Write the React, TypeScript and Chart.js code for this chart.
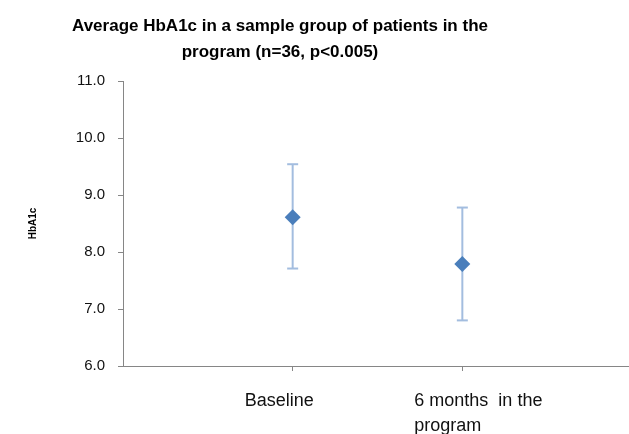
import React, { useEffect, useRef } from "react";
import { Chart, registerables } from "chart.js";

Chart.register(...registerables);

const titleLines = [
  "Average HbA1c in a sample group of patients in the",
  "program (n=36, p<0.005)",
];
const categories: (string | string[])[] = ["Baseline", ["6 months  in the", "program"]];
const categoryPositions = [1, 2];
const meanValues = [8.61, 7.79];
const upperValues = [9.54, 8.78];
const lowerValues = [7.71, 6.8];
const yTitle = "HbA1c";

const AXIS = "#868686";
const MARKER = "#4a7ebb";
const ERRBAR = "#a3bddf";

const titlePlugin = {
  id: "customTitle",
  afterDraw(chart: any) {
    const ctx = chart.ctx;
    ctx.save();
    ctx.font = "bold 17px 'Liberation Sans', Arial, sans-serif";
    ctx.fillStyle = "#000";
    ctx.textAlign = "center";
    ctx.textBaseline = "alphabetic";
    titleLines.forEach((t, i) => ctx.fillText(t, 280, 31 + i * 26));
    ctx.restore();
  },
};

export default function App() {
  const ref = useRef<HTMLCanvasElement>(null);
  useEffect(() => {
    if (!ref.current) return;
    const errorSets = categoryPositions.map((x, i) => ({
      type: "line" as const,
      data: [
        { x, y: lowerValues[i] },
        { x, y: upperValues[i] },
      ],
      showLine: true,
      borderColor: ERRBAR,
      borderWidth: 2,
      pointStyle: "line",
      pointRadius: 5.5,
      pointBorderWidth: 2,
      pointBorderColor: ERRBAR,
      pointHoverRadius: 5.5,
      order: 2,
    }));
    const chart = new Chart(ref.current, {
      type: "scatter",
      data: {
        datasets: [
          {
            data: categoryPositions.map((x, i) => ({ x, y: meanValues[i] })),
            pointStyle: "rectRot",
            pointRadius: 8,
            pointHoverRadius: 8,
            backgroundColor: MARKER,
            borderColor: MARKER,
            borderWidth: 0,
            order: 1,
          } as any,
          ...(errorSets as any[]),
        ],
      },
      plugins: [titlePlugin],
      options: {
        animation: false,
        responsive: false,
        events: [],
        layout: { padding: { top: 81, left: 0, right: 0, bottom: 0 } },
        plugins: {
          legend: { display: false },
          tooltip: { enabled: false },
          title: { display: false },
        },
        scales: {
          x: {
            type: "linear",
            min: 0,
            max: 3,
            afterBuildTicks: (scale: any) => {
              scale.ticks = categoryPositions.map((v) => ({ value: v }));
            },
            afterFit: (scale: any) => {
              scale.height = 68;
            },
            border: { color: AXIS, width: 1 },
            grid: {
              drawOnChartArea: false,
              drawTicks: true,
              tickLength: 5,
              color: AXIS,
            },
            ticks: {
              align: "start",
              labelOffset: -48,
              padding: 18,
              maxRotation: 0,
              autoSkip: false,
              color: "#111",
              font: { family: "'Liberation Sans', Arial, sans-serif", size: 18, lineHeight: 25 / 18 },
              callback: (v: any) => {
                const idx = categoryPositions.indexOf(Number(v));
                return idx >= 0 ? (categories[idx] as any) : "";
              },
            },
          },
          y: {
            min: 6,
            max: 11,
            afterFit: (scale: any) => {
              scale.width = 123;
            },
            border: { color: AXIS, width: 1 },
            grid: {
              drawOnChartArea: false,
              drawTicks: true,
              tickLength: 5,
              color: AXIS,
            },
            ticks: {
              stepSize: 1,
              padding: 13,
              color: "#111",
              font: { family: "'Liberation Sans', Arial, sans-serif", size: 15 },
              callback: (v: any) => Number(v).toFixed(1),
            },
            title: {
              display: true,
              text: yTitle,
              color: "#000",
              padding: { top: 27, bottom: 0 },
              font: { family: "'Liberation Sans', Arial, sans-serif", size: 10, weight: "bold" },
            },
          },
        },
      } as any,
    });
    return () => chart.destroy();
  }, []);
  return (
    <div style={{ position: "absolute", left: 0, top: 0, width: 629, height: 434, overflow: "hidden", background: "#fff" }}>
      <div style={{ width: 640, height: 434 }}>
        <canvas ref={ref} width={640} height={434} style={{ display: "block", width: 640, height: 434 }} />
      </div>
    </div>
  );
}
